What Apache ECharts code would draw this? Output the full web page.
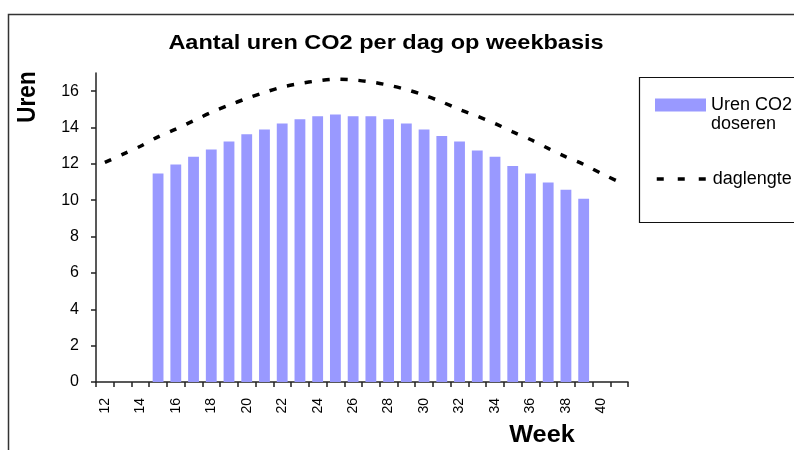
<!DOCTYPE html>
<html>
<head>
<meta charset="utf-8">
<script src="https://cdn.jsdelivr.net/npm/echarts@6/dist/echarts.min.js"></script>
<style>
html,body{margin:0;padding:0;background:#fff;}
#chart{width:794px;height:450px;}
</style>
</head>
<body>
<div id="chart"></div>
<script>
const weeks = ['12','13','14','15','16','17','18','19','20','21','22','23','24','25','26','27','28','29','30','31','32','33','34','35','36','37','38','39','40','41'];
const urenCO2 = [null,null,null,11.47,11.97,12.39,12.79,13.23,13.63,13.89,14.22,14.46,14.62,14.72,14.62,14.62,14.46,14.22,13.89,13.54,13.23,12.74,12.39,11.89,11.47,10.97,10.57,10.08,null,null];
const daglengte = [12.08,12.52,12.97,13.49,13.91,14.37,14.83,15.23,15.60,15.93,16.23,16.42,16.57,16.66,16.62,16.51,16.33,16.09,15.78,15.41,14.99,14.62,14.22,13.76,13.34,12.85,12.39,11.97,11.47,11.01];
const yTicks = [0,2,4,6,8,10,12,14,16];
const titleText = 'Aantal uren CO2 per dag op weekbasis';
const yName = 'Uren';
const xName = 'Week';
const barName = 'Uren CO2\ndoseren';
const lineName = 'daglengte';

const FONT = '"Liberation Sans", Arial, Helvetica, sans-serif';
const chart = echarts.init(document.getElementById('chart'), null, {renderer:'canvas'});
chart.setOption({
  animation: false,
  backgroundColor: '#fff',
  textStyle: {fontFamily: FONT},
  grid: {left: 96, right: 166, top: 73, bottom: 68, containLabel: false},
  legend: [
    {
      data: [{name: barName, icon: 'path://M0,0 M0,3 L51,3 L51,16 L0,16 Z M0,38'}],
      left: 655, top: 95.5, orient: 'vertical', padding: 0,
      itemWidth: 51, itemHeight: 38,
      textStyle: {fontFamily: FONT, fontSize: 18, color: '#000', lineHeight: 19}
    },
    {
      data: [{name: lineName, itemStyle: {opacity: 0}, lineStyle: {type: [7, 14], width: 3.5, color: '#000'}}],
      left: 655, top: 170, orient: 'vertical', padding: 0,
      itemWidth: 51, itemHeight: 14,
      itemStyle: {opacity: 0},
      lineStyle: {type: [7, 14], width: 3.5, color: '#000'},
      textStyle: {fontFamily: FONT, fontSize: 18, color: '#000'}
    }
  ],
  xAxis: {
    type: 'category',
    data: weeks,
    boundaryGap: true,
    axisLine: {lineStyle: {color: '#222', width: 1.5}},
    axisTick: {show: true, interval: 0, alignWithLabel: false, length: 5, lineStyle: {color: '#222', width: 1.5}},
    axisLabel: {interval: 1, rotate: 90, margin: 16, fontFamily: FONT, fontSize: 14, color: '#000'},
    splitLine: {show: false}
  },
  yAxis: {
    type: 'value',
    min: 0, max: 17, interval: 1,
    axisLine: {show: true, lineStyle: {color: '#222', width: 1.5}},
    axisTick: {show: true, length: 5, customValues: yTicks, lineStyle: {color: '#222', width: 1.5}},
    axisLabel: {customValues: yTicks, margin: 17, fontFamily: FONT, fontSize: 16, color: '#000'},
    splitLine: {show: false}
  },
  graphic: [
    {type: 'rect', shape: {x: 8.5, y: 14.5, width: 1000, height: 1000}, style: {fill: 'none', stroke: '#333', lineWidth: 1.5}, silent: true, z: -1},
    {type: 'rect', shape: {x: 639.5, y: 77.5, width: 300, height: 145}, style: {fill: '#fff', stroke: '#111', lineWidth: 1.2}, silent: true, z: 0},
    {type: 'text', x: 386, y: 43, scaleX: 1.12, style: {text: titleText, fontFamily: FONT, fontSize: 21, fontWeight: 'bold', fill: '#000', align: 'center', verticalAlign: 'middle'}, z: 10, silent: true},
    {type: 'text', x: 28, y: 97, rotation: Math.PI/2, scaleY: 1.18, style: {text: yName, fontFamily: FONT, fontSize: 22.5, fontWeight: 'bold', fill: '#000', align: 'center', verticalAlign: 'middle'}, z: 10, silent: true},
    {type: 'text', x: 542, y: 436, scaleX: 1.1, style: {text: xName, fontFamily: FONT, fontSize: 23, fontWeight: 'bold', fill: '#000', align: 'center', verticalAlign: 'middle'}, z: 10, silent: true}
  ],
  series: [
    {
      name: barName,
      type: 'bar',
      data: urenCO2,
      barWidth: '61%',
      itemStyle: {color: '#9999FF'},
      z: 2
    },
    {
      name: lineName,
      type: 'line',
      data: daglengte,
      symbol: 'none',
      smooth: 0.3,
      lineStyle: {color: '#000', width: 3.5, type: [7, 11]},
      itemStyle: {color: '#000'},
      z: 3
    }
  ]
});
</script>
</body>
</html>
